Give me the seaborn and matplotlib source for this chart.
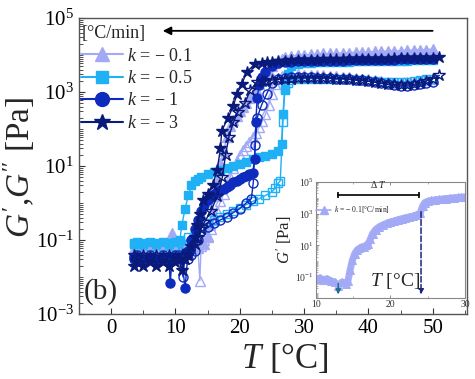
import matplotlib
matplotlib.use("Agg")
import matplotlib.pyplot as plt
from matplotlib.lines import Line2D
from matplotlib.ticker import MultipleLocator, LogLocator, NullFormatter
import seaborn as sns
import numpy as np

# ---------------- data ----------------
k_labels = ["$k$ = − 0.1", "$k$ = − 0.5", "$k$ = − 1", "$k$ = − 3"]

# k = -0.1
T01_gp = [50,49,48,47,46,45,44,43,42,41,40,39,38,37,36,35,34,33,32,31,30,29,28,27,26.5,26,25.5,25,24.5,24,23.5,23,22.5,22,21.5,21,20.5,20,19.5,19,18.5,18,17.5,17,16.7,16.4,16,15.7,15.4,15,14.5,14,13.5,13,12.5,12,11.5,11,10.5,10,9.5,9,8.5,8,7.5,7,6.5,6,5.5,5,4.5,4,3.5]
G01_gp = [1.45e4,1.4e4,1.4e4,1.35e4,1.35e4,1.3e4,1.3e4,1.3e4,1.25e4,1.25e4,1.2e4,1.2e4,1.2e4,1.15e4,1.15e4,1.1e4,1.1e4,1.1e4,1.05e4,1.05e4,1.0e4,1.0e4,9.5e3,9e3,8e3,7e3,6e3,5e3,3.8e3,2.8e3,2.1e3,1.6e3,1.2e3,900,680,520,400,300,230,170,120,60,25,12,8,4,1.5,0.6,0.25,0.12,0.08,0.1,0.07,0.08,0.06,0.07,0.06,0.07,0.06,0.07,0.15,0.06,0.05,0.06,0.05,0.06,0.05,0.06,0.05,0.06,0.05,0.06,0.05]
T01_gpp = [50,49,48,47,46,45,44,43,42,41,40,39,38,37,36,35,34,33,32,31,30,29,28,27,26.5,26,25.5,25,24.5,24,23.5,23,22.5,22,21.5,21,20.5,20,19.5,19,18.5,18,17.5,17,16.5,16,15.5,15,14.5,14,13.8,13.5,13,12,11,10,9,8,7,6,5,4,3.5]
G01_gpp = [2.2e3,2.1e3,2e3,1.9e3,1.85e3,1.8e3,1.8e3,1.9e3,2e3,2.1e3,2.2e3,2.3e3,2.4e3,2.5e3,2.6e3,2.7e3,2.7e3,2.8e3,2.8e3,2.9e3,2.9e3,3e3,3e3,2.9e3,2.7e3,2.3e3,1.6e3,900,450,250,160,110,80,60,45,35,27,20,14,9,5,3,1.8,1.1,0.6,0.35,0.2,0.13,0.1,0.07,0.008,0.06,0.07,0.06,0.07,0.06,0.07,0.06,0.07,0.06,0.07,0.06,0.06]

# k = -0.5
T05_gp = [50,49,48,47,46,45,44,43,42,41,40,39,38,37,36,35,34,33,32,31,30,29,28,27.5,27,26.7,26.5,26,25,24,23,22,21,20,19,18,17,16,15,14,13.5,13,12.5,12,11.5,11,10.7,10,9,8,7,6,5,4,3.5]
G05_gp = [7.5e3,7.5e3,7.3e3,7.2e3,7e3,7e3,7e3,6.9e3,6.9e3,6.8e3,6.8e3,6.7e3,6.7e3,6.6e3,6.6e3,6.5e3,6.5e3,6.4e3,6.3e3,6.2e3,6e3,5.7e3,5e3,3e3,1.2e3,250,40,25,21,19,17,15,13,11.5,10,9,8,7,6,5,4.5,4,3,1.6,0.7,0.25,0.1,0.09,0.085,0.09,0.085,0.09,0.085,0.09,0.085]
T05_gpp = [50,49,48,47,46,45,44,43,42,41,40,39,38,37,36,35,34,33,32,31,30,29,28,27.5,27,26.7,26.3,26,25.5,25,24,23,22,21,20,19,18,17,16,15,14,13,12,11.5,11,10,9,8,7,6,5,4,3.5]
G05_gpp = [2.3e3,2.2e3,2.1e3,2e3,1.9e3,1.85e3,1.85e3,1.85e3,1.9e3,2e3,2e3,2.1e3,2.1e3,2.2e3,2.2e3,2.2e3,2.3e3,2.3e3,2.3e3,2.3e3,2.3e3,2.2e3,2.1e3,1.8e3,1.1e3,150,4,3.5,2.5,2,1.6,1.3,1.1,0.9,0.75,0.6,0.5,0.42,0.35,0.28,0.22,0.17,0.12,0.08,0.06,0.07,0.08,0.07,0.08,0.07,0.08,0.07,0.08]

# k = -1
T1_gp = [50,49,48,47,46,45,44,43,42,41,40,39,38,37,36,35,34,33,32,31,30,29,28,27,26,25,24,23.5,23,22.7,22.5,22.3,22,21.5,21,20.5,20,19.5,19,18.5,18,17.5,17,16.5,16,15.5,15,14.5,14,13.5,13,12.5,12,11.5,11,10.5,10,9.5,9.2,9,8.5,8,7,6,5,4,3.5]
G1_gp = [8e3,8e3,7.8e3,7.8e3,7.7e3,7.6e3,7.5e3,7.5e3,7.4e3,7.4e3,7.3e3,7.3e3,7.2e3,7.2e3,7.1e3,7e3,7e3,7e3,6.9e3,6.8e3,6.8e3,6.7e3,6.6e3,6.5e3,6e3,5e3,3.5e3,2.5e3,1.5e3,700,150,15,6.5,6,5.5,5,4.5,4,3.6,3.1,2.7,2.4,2.2,2,1.8,1.5,1.2,0.9,0.6,0.35,0.2,0.1,0.05,0.005,0.03,0.035,0.03,0.035,0.007,0.03,0.03,0.035,0.03,0.035,0.03,0.035,0.03]
T1_gpp = [50,49,48,47,46,45,44,43,42,41,40,39,38,37,36,35,34,33,32,31,30,29,28,27,26,25,24.2,23.4,22.7,22.4,22.1,21.8,21,20,19,18,17,16,15,14,13.5,13,12.5,12,11.5,11.2,10.5,10,9,8,7,6,5,4,3.5]
G1_gpp = [1.9e3,1.75e3,1.6e3,1.5e3,1.45e3,1.45e3,1.5e3,1.6e3,1.7e3,1.85e3,1.95e3,2.05e3,2.15e3,2.2e3,2.3e3,2.3e3,2.4e3,2.4e3,2.4e3,2.5e3,2.5e3,2.5e3,2.5e3,2.4e3,2.2e3,1.8e3,900,450,200,37,3.5,1.3,1,0.7,0.55,0.42,0.35,0.28,0.22,0.17,0.1,0.05,0.04,0.03,0.04,0.01,0.04,0.04,0.035,0.04,0.035,0.04,0.035,0.04,0.035]

# k = -3
T3_gp = [51,50,49,48,47,46,45,44,43,42,41,40,39,38,37,36,35,34,33,32,31,30,29,28,27,26,25,24.2,23.4,22.4,21.1,20.3,19.6,19,18.2,17.2,17,16.5,15.8,15,14.3,13.8,13.4,13,12.5,12,11.5,11,10.5,10,9,8,7,6,5,4,3.5]
G3_gp = [9e3,8.5e3,8.5e3,8.3e3,8.3e3,8.2e3,8.2e3,8.1e3,8e3,8e3,8e3,7.9e3,7.9e3,7.8e3,7.8e3,7.7e3,7.7e3,7.6e3,7.6e3,7.5e3,7.5e3,7.4e3,7.3e3,7.2e3,7e3,6.8e3,6.6e3,6.4e3,6.2e3,5.8e3,3.5e3,1.6e3,900,420,200,90,30,8,3,1.8,1.2,0.5,0.25,0.12,0.07,0.04,0.03,0.015,0.03,0.025,0.02,0.025,0.02,0.025,0.02,0.025,0.02]
T3_gpp = [51,50,49,48,47,46,45,44,43,42,41,40,39,38,37,36,35,34,33,32,31,30,29,28,27,26,25,24,23.5,22.7,21.6,20.8,19.7,19,18.3,17.8,17.3,16.5,15.5,14.5,14,13.5,13,12,11,10,9,8,7,6,5,4,3.5]
G3_gpp = [2.8e3,2.3e3,2e3,1.75e3,1.6e3,1.55e3,1.55e3,1.6e3,1.65e3,1.75e3,1.85e3,1.95e3,2.05e3,2.1e3,2.2e3,2.3e3,2.3e3,2.4e3,2.4e3,2.4e3,2.4e3,2.4e3,2.4e3,2.3e3,2.3e3,2.2e3,2.1e3,2e3,2e3,1.9e3,1.1e3,500,290,150,60,20,5,1.5,0.6,0.3,0.2,0.12,0.08,0.05,0.04,0.035,0.04,0.035,0.04,0.035,0.04,0.035,0.04]

# inset: G' for k = -0.1
Tin = [10,10.5,11,11.5,12,12.5,13,13.5,14,14.3,14.6,14.9,15.2,15.5,15.8,16.1,16.4,16.7,17,17.3,17.6,18,18.5,19,19.5,20,20.5,21,21.5,22,22.5,23,23.5,24,24.3,24.6,25,25.5,26,26.5,27,27.5,28,28.5,29,29.5,30]
Gin = [0.08,0.09,0.07,0.08,0.06,0.05,0.03,0.05,0.04,0.06,0.3,1.2,3,5,6.5,7.5,8.5,10,12,25,55,100,150,200,250,300,350,420,480,550,620,700,850,1100,3000,5000,6000,6800,7500,8000,8500,9000,9500,10000,10500,11000,11500]

# ---------------- style ----------------
sns.set_style("ticks")
plt.rcParams["font.family"] = ["Liberation Serif", "DejaVu Serif"]
plt.rcParams["mathtext.fontset"] = "custom"
plt.rcParams["mathtext.rm"] = "Liberation Serif"
plt.rcParams["mathtext.it"] = "Liberation Serif:italic"
plt.rcParams["mathtext.bf"] = "Liberation Serif:bold"

colors = ["#a3aaf5", "#1fb0f5", "#0d2bbd", "#0a1a7a"]
markers = ["^", "s", "o", "*"]
msizes = [7, 5.5, 6.5, 9]

fig = plt.figure(figsize=(4.75, 3.79), dpi=100)
ax = fig.add_axes([0.166, 0.1715, 0.817, 0.781])
ax.set_yscale("log")

series = [
    (T01_gp, G01_gp, T01_gpp, G01_gpp),
    (T05_gp, G05_gp, T05_gpp, G05_gpp),
    (T1_gp, G1_gp, T1_gpp, G1_gpp),
    (T3_gp, G3_gp, T3_gpp, G3_gpp),
]
for i, (tp, gp, tpp, gpp) in enumerate(series):
    c = colors[i]
    sns.lineplot(x=tpp, y=gpp, sort=False, estimator=None, ax=ax, color=c,
                 marker=markers[i], markersize=msizes[i], markerfacecolor="none",
                 markeredgecolor=c, markeredgewidth=1.0, linewidth=1.0)
    sns.lineplot(x=tp, y=gp, sort=False, estimator=None, ax=ax, color=c,
                 marker=markers[i], markersize=msizes[i], markerfacecolor=c,
                 markeredgecolor=c, markeredgewidth=1.0, linewidth=1.0)

ax.set_xlim(-5, 55.3)
ax.set_ylim(1e-3, 1e5)
ax.set_yticks([1e-3, 1e-1, 1e1, 1e3, 1e5])
ax.set_yticklabels([r"$10^{-3}$", r"$10^{-1}$", r"$10^{1}$", r"$10^{3}$", r"$10^{5}$"])
ax.yaxis.set_minor_locator(LogLocator(base=10, subs=np.arange(1, 10), numticks=50))
ax.yaxis.set_minor_formatter(NullFormatter())
ax.xaxis.set_major_locator(MultipleLocator(10))
ax.xaxis.set_minor_locator(MultipleLocator(5))
ax.tick_params(axis="both", which="both", direction="in", labelsize=15, colors="#333333",
               labelcolor="black")
ax.tick_params(axis="both", which="major", length=4, width=0.8)
ax.tick_params(axis="both", which="minor", length=3, width=0.6)
for s in ax.spines.values():
    s.set_visible(True)
    s.set_color("#555555")
    s.set_linewidth(1.0)

ax.set_xlabel(r"$T$ [°C]", fontsize=25)
ax.set_ylabel(r"$G'$,$G''$ [Pa]", fontsize=24)
ax.xaxis.set_label_coords(0.53, -0.095)
ax.yaxis.set_label_coords(-0.108, 0.497)

ax.text(0.012, 0.03, "(b)", transform=ax.transAxes, fontsize=21, ha="left", va="bottom")

ax.annotate("", xy=(7.6, 4.5e4), xytext=(50.4, 4.5e4),
            arrowprops=dict(arrowstyle="-|>", color="black", lw=1.3, mutation_scale=12))

handles = [Line2D([0], [0], color=colors[i], marker=markers[i], markersize=[10, 9, 10, 12][i],
                  markerfacecolor=colors[i], markeredgecolor=colors[i], lw=1.5)
           for i in range(4)]
leg = ax.legend(handles, k_labels, title="[°C/min]", loc="upper left", bbox_to_anchor=(-0.012, 1.0),
                frameon=False, fontsize=13, title_fontsize=13, handlelength=2.3, handletextpad=0.25,
                labelspacing=0.3, borderaxespad=0.2, borderpad=0.2, alignment="left")

# ---------------- inset ----------------
axi = fig.add_axes([0.665, 0.214, 0.314, 0.306])
axi.set_yscale("log")
sns.lineplot(x=Tin, y=Gin, sort=False, estimator=None, ax=axi, color=colors[0],
             marker="^", markersize=5.5, markerfacecolor=colors[0], markeredgecolor=colors[0],
             linewidth=5, alpha=0.95)
axi.set_xlim(10, 30)
axi.set_ylim(5e-3, 1e5)
axi.set_yticks([1e-1, 1e1, 1e3, 1e5])
axi.set_yticklabels([r"$10^{-1}$", r"$10^{1}$", r"$10^{3}$", r"$10^{5}$"])
axi.yaxis.set_minor_formatter(NullFormatter())
axi.yaxis.set_minor_locator(LogLocator(base=10, subs=np.arange(1, 10), numticks=50))
axi.set_xticks([10, 20, 30])
axi.xaxis.set_minor_locator(MultipleLocator(5))
axi.tick_params(axis="both", which="both", direction="in", labelsize=7, top=True,
                colors="#777777", labelcolor="#333333", pad=1.5)
axi.tick_params(axis="both", which="major", length=2.5, width=0.6)
axi.tick_params(axis="both", which="minor", length=1.5, width=0.4)
for s in axi.spines.values():
    s.set_color("#888888")
    s.set_linewidth(0.8)
axi.set_xlabel("")
axi.set_ylabel(r"$G'$ [Pa]", fontsize=12, labelpad=1)
axi.text(0.36, 0.06, r"$T$ [°C]", transform=axi.transAxes, fontsize=14, ha="left", va="bottom")

axi.plot([13, 23.8], [1.6e4, 1.6e4], color="black", lw=1.2, marker="|", markersize=5, mew=1.2)
axi.text(18.4, 3.2e4, r"Δ $T$", fontsize=7, ha="center", va="bottom")
axi.annotate("", xy=(24.1, 5.5e-3), xytext=(24.1, 2e3),
             arrowprops=dict(arrowstyle="-|>", color="#1a237e", lw=1.1, ls="--", mutation_scale=7))
axi.annotate("", xy=(13, 5.5e-3), xytext=(13, 0.06),
             arrowprops=dict(arrowstyle="-|>", color="#1f6f8f", lw=1.1, mutation_scale=7))

hin = [Line2D([0], [0], color=colors[0], marker="^", markersize=6, markerfacecolor=colors[0],
              markeredgecolor=colors[0], lw=1.2)]
axi.legend(hin, ["$k$ = − 0.1[°C/min]"], loc="center left", bbox_to_anchor=(-0.02, 0.76),
           frameon=False, fontsize=5.5, handlelength=2.0, handletextpad=0.3, borderaxespad=0)

fig.savefig("out.png", dpi=100)
